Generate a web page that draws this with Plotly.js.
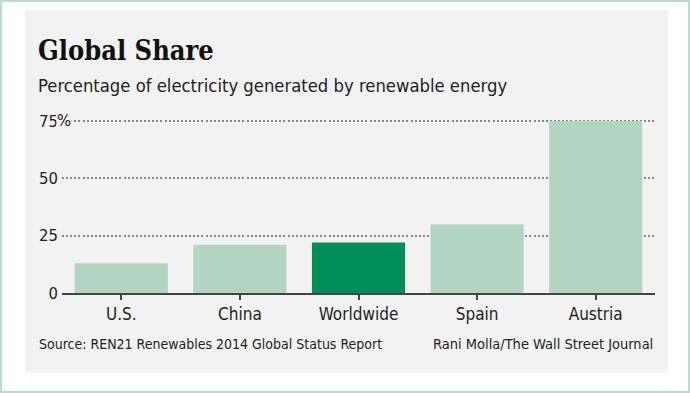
<!DOCTYPE html>
<html><head><meta charset="utf-8">
<script src="https://cdn.plot.ly/plotly-3.0.1.min.js"></script>
<style>
html,body{margin:0;padding:0;background:#fff;}
#frame{position:absolute;left:0;top:0;width:690px;height:393px;box-sizing:border-box;border:2px solid #b7dccf;}
#panel{position:absolute;left:25px;top:10px;width:643px;height:363px;background:#f2f2f2;}
#chart{position:absolute;left:0;top:0;width:690px;height:393px;}
</style></head>
<body>
<div id="frame"></div><div id="panel"></div><div id="chart"></div>
<script>
const categories = ["U.S.", "China", "Worldwide", "Spain", "Austria"];
const values = [13, 21, 22, 30, 75];
const highlight = "Worldwide";
const yTickVals = [0, 25, 50, 75];
const yTickText = ["0", "25", "50", "75"];
const titleText = "Global Share";
const subtitleText = "Percentage of electricity generated by renewable energy";
const sourceText = "Source: REN21 Renewables 2014 Global Status Report";
const creditText = "Rani Molla/The Wall Street Journal";

const W = 690, H = 393;
const M = {l: 62, r: 35, t: 110, b: 100};
const pw = W - M.l - M.r, ph = H - M.t - M.b;
const px = x => (x - M.l) / pw;
const py = y => (H - M.b - y) / ph;

const sans = "DejaVu Sans Condensed, DejaVu Sans, sans-serif";
const light = "#b3d4c3", dark = "#008d5c";

const trace = {
  type: "bar",
  x: categories,
  y: values,
  marker: {color: categories.map(c => c === highlight ? dark : light), line: {width: 0}},
  hoverinfo: "none"
};

const layout = {
  width: W, height: H,
  margin: M,
  paper_bgcolor: "rgba(0,0,0,0)",
  plot_bgcolor: "rgba(0,0,0,0)",
  bargap: 0.215,
  showlegend: false,
  font: {family: sans, color: "#222"},
  xaxis: {
    range: [-0.5, 4.5],
    showline: true, linecolor: "#444", linewidth: 2,
    ticks: "outside", ticklen: 5, tickwidth: 2, tickcolor: "#444",
    tickfont: {family: sans, size: 17, color: "#222"},
    showgrid: false, zeroline: false, fixedrange: true
  },
  yaxis: {
    range: [0, 79.85],
    tickvals: yTickVals, ticktext: yTickText,
    tickfont: {family: sans, size: 16.5, color: "#222"},
    showgrid: true, gridcolor: "#888", gridwidth: 2, griddash: "2px,2.1px",
    zeroline: false, showline: false, ticks: "", ticklabelstandoff: 3,
    fixedrange: true
  },
  annotations: [
    {text: "<b>" + titleText + "</b>", xref: "paper", yref: "paper", x: px(36), y: py(50),
     xanchor: "left", yanchor: "middle", showarrow: false,
     font: {family: "DejaVu Serif Condensed, DejaVu Serif, serif", size: 27, color: "#111"}},
    {text: subtitleText, xref: "paper", yref: "paper", x: px(36), y: py(85),
     xanchor: "left", yanchor: "middle", showarrow: false,
     font: {family: sans, size: 18.3, color: "#222"}},
    {text: "%", xref: "paper", yref: "paper", x: px(56), y: py(121),
     xanchor: "left", yanchor: "middle", showarrow: false, bgcolor: "#f2f2f2", borderpad: 0,
     font: {family: sans, size: 16.5, color: "#222"}},
    {text: sourceText, xref: "paper", yref: "paper", x: px(37), y: py(344),
     xanchor: "left", yanchor: "middle", showarrow: false,
     font: {family: sans, size: 14, color: "#222"}},
    {text: creditText, xref: "paper", yref: "paper", x: px(655), y: py(344),
     xanchor: "right", yanchor: "middle", showarrow: false,
     font: {family: sans, size: 14.5, color: "#222"}}
  ]
};

Plotly.newPlot("chart", [trace], layout, {displayModeBar: false, staticPlot: true});
</script>
</body></html>
